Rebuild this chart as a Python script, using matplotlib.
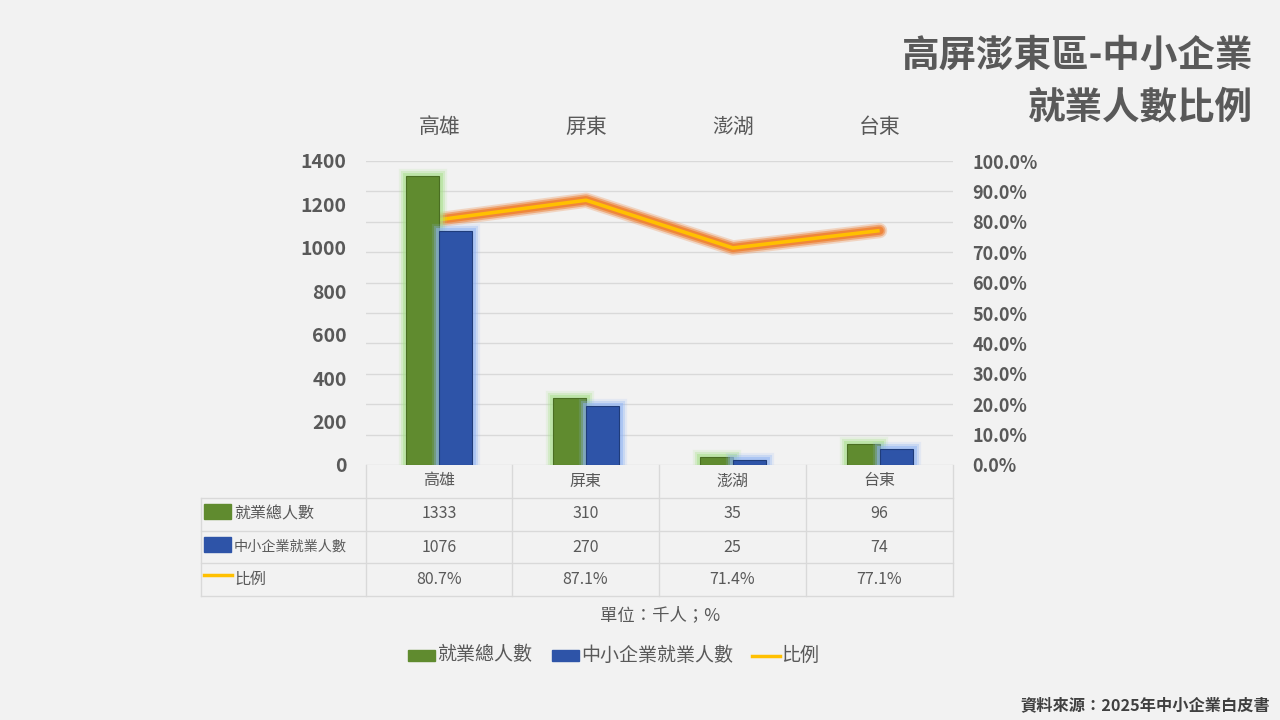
import matplotlib
matplotlib.use("Agg")
import matplotlib.pyplot as plt
import matplotlib.patheffects as pe
from matplotlib.lines import Line2D
from matplotlib.patches import Rectangle
import numpy as np

plt.rcParams['font.family'] = ['Noto Sans CJK TC', 'DejaVu Sans']

# 資料
regions = ['高雄', '屏東', '澎湖', '台東']
total_emp = [1333, 310, 35, 96]
sme_emp = [1076, 270, 25, 74]
ratio = [80.7, 87.1, 71.4, 77.1]
series_names = ['就業總人數', '中小企業就業人數', '比例']

bg = '#f2f2f2'
green = '#608b2f'
blue = '#2e54a8'
yellow = '#ffc000'
orange = '#ed7d31'
txt = '#595959'
grid_c = '#d9d9d9'

fig = plt.figure(figsize=(12.8, 7.2), dpi=100, facecolor=bg)
W, H = 1280, 720


def fx(px):
    return px / W


def fy(py):
    return 1 - py / H


ax = fig.add_axes([fx(366), fy(465), fx(953) - fx(366), fy(161) - fy(465)])
ax.set_facecolor(bg)
x = np.arange(len(regions))
bw = 0.225


def glow(col):
    return [pe.Stroke(linewidth=11, foreground=col, alpha=0.15),
            pe.Stroke(linewidth=8, foreground=col, alpha=0.3),
            pe.Stroke(linewidth=5, foreground=col, alpha=0.5), pe.Normal()]


b1 = ax.bar(x - bw / 2, total_emp, bw, color=green, edgecolor='#4a6e22', linewidth=0.8, zorder=3)
b2 = ax.bar(x + bw / 2, sme_emp, bw, color=blue, edgecolor='#1f3c7a', linewidth=0.8, zorder=3)
for r in b1:
    r.set_path_effects(glow('#a8e08a'))
for r in b2:
    r.set_path_effects(glow('#8fb4f5'))

ax.set_xlim(-0.5, len(regions) - 0.5)
ax.set_ylim(0, 1400)
ax.set_yticks(range(0, 1401, 200))
ax.set_xticks([])
for s in ax.spines.values():
    s.set_visible(False)
ax.tick_params(axis='y', length=0, pad=14, labelsize=14, labelcolor=txt)
for lb in ax.get_yticklabels():
    lb.set_fontweight('bold')

ax2 = ax.twinx()
ax2.set_ylim(0, 100)
ax2.set_yticks(range(0, 101, 10))
ax2.set_yticklabels([f'{v:.1f}%' for v in range(0, 101, 10)])
ax2.yaxis.grid(True, color=grid_c, linewidth=1)
ax2.set_axisbelow(True)
for s in ax2.spines.values():
    s.set_visible(False)
ax2.tick_params(axis='y', length=0, pad=14, labelsize=13, labelcolor=txt)
for lb in ax2.get_yticklabels():
    lb.set_fontweight('bold')
ax2.plot(x, ratio, color=yellow, linewidth=2.6, solid_capstyle='butt', zorder=5,
         path_effects=[pe.Stroke(linewidth=11, foreground=orange, alpha=0.25, capstyle='round'),
                       pe.Stroke(linewidth=8.5, foreground=orange, alpha=0.5, capstyle='round'),
                       pe.Stroke(linewidth=6, foreground='#f08030', alpha=0.85, capstyle='round'),
                       pe.Normal()])
ax.set_zorder(ax2.get_zorder() + 1)
ax.patch.set_visible(False)
ax2.patch.set_visible(False)

# 上方類別標籤
for i, r in enumerate(regions):
    fig.text(fx(366 + 146.75 * (i + 0.5)), fy(127), r, ha='center', va='center',
             fontsize=15, color=txt)

# 資料表
cols = [201, 366, 512, 659, 806, 953]
rows = [465, 498, 531, 563, 596]
for yy in rows[1:]:
    fig.add_artist(Line2D([fx(201), fx(953)], [fy(yy), fy(yy)], color=grid_c, lw=1))
for c in cols[1:]:
    fig.add_artist(Line2D([fx(c), fx(c)], [fy(465), fy(596)], color=grid_c, lw=1))
fig.add_artist(Line2D([fx(201), fx(201)], [fy(498), fy(596)], color=grid_c, lw=1))

for i, r in enumerate(regions):
    cx = fx((cols[i + 1] + cols[i + 2]) / 2)
    fig.text(cx, fy(481), r, ha='center', va='center', fontsize=11.5, color=txt)
    fig.text(cx, fy(514), str(total_emp[i]), ha='center', va='center', fontsize=11.5, color=txt)
    fig.text(cx, fy(547), str(sme_emp[i]), ha='center', va='center', fontsize=11.5, color=txt)
    fig.text(cx, fy(579), f'{ratio[i]:.1f}%', ha='center', va='center', fontsize=11.5, color=txt)

row_y = [514, 547, 579]
row_fs = [11.5, 10.2, 11.5]
fig.add_artist(Rectangle((fx(204), fy(519)), fx(27), fy(504) - fy(519), color=green))
fig.add_artist(Rectangle((fx(204), fy(552)), fx(27), fy(537) - fy(552), color=blue))
fig.add_artist(Line2D([fx(204), fx(232)], [fy(575), fy(575)], color=yellow, lw=2.5))
for yy, name, fs in zip(row_y, series_names, row_fs):
    fig.text(fx(234), fy(yy), name, ha='left', va='center', fontsize=fs, color=txt)

fig.text(fx(660), fy(615), '單位：千人；%', ha='center', va='center', fontsize=12.5, color=txt)

# 圖例
fig.add_artist(Rectangle((fx(408), fy(661)), fx(27), fy(650) - fy(661), color=green))
fig.text(fx(437), fy(655), series_names[0], ha='left', va='center', fontsize=13.7, color=txt)
fig.add_artist(Rectangle((fx(552), fy(661)), fx(27), fy(650) - fy(661), color=blue))
fig.text(fx(581), fy(655), series_names[1], ha='left', va='center', fontsize=13.7, color=txt)
fig.add_artist(Line2D([fx(752), fx(780)], [fy(656), fy(656)], color=yellow, lw=2.5))
fig.text(fx(781), fy(655), series_names[2], ha='left', va='center', fontsize=13.7, color=txt)

# 標題
fig.text(fx(1253), fy(55), '高屏澎東區-中小企業', ha='right', va='center',
         fontsize=27, fontweight='bold', color=txt)
fig.text(fx(1253), fy(107), '就業人數比例', ha='right', va='center',
         fontsize=27, fontweight='bold', color=txt)
fig.text(fx(1270), fy(705), '資料來源：2025年中小企業白皮書', ha='right', va='center',
         fontsize=11.7, fontweight='bold', color='#404040')

fig.savefig('out.png', dpi=100, facecolor=bg)
